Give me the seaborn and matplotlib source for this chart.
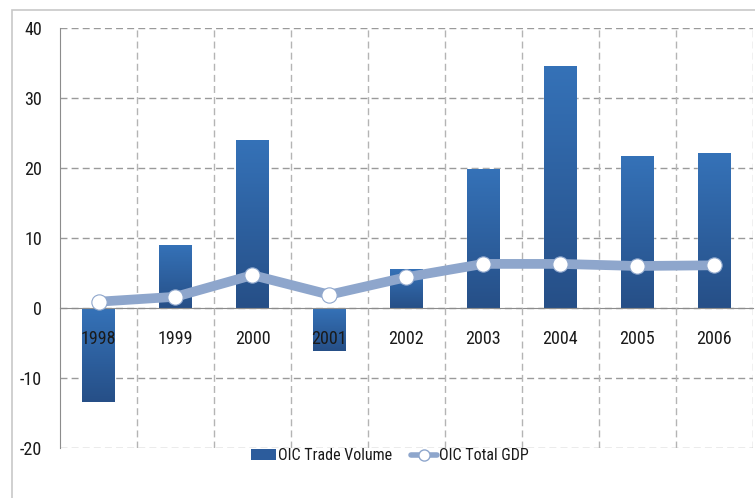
import matplotlib
matplotlib.use("Agg")
import matplotlib.pyplot as plt
import matplotlib.font_manager as fm
from matplotlib.patches import Rectangle
from matplotlib.lines import Line2D
import numpy as np
import pandas as pd
import seaborn as sns

# values
years = ["1998", "1999", "2000", "2001", "2002", "2003", "2004", "2005", "2006"]
trade_volume = [-13.4, 9.0, 24.0, -6.1, 5.6, 19.9, 34.6, 21.7, 22.1]
total_gdp = [0.9, 1.6, 4.7, 1.9, 4.4, 6.3, 6.3, 6.0, 6.1]
y_ticks = [-20, -10, 0, 10, 20, 30, 40]

df = pd.DataFrame({"Year": years, "Trade": trade_volume, "GDP": total_gdp})

sns.set_style("white")
fonts = fm.fontManager.ttflist
names = {f.name for f in fonts}
narrow = [n for n in ["Roboto Condensed", "Liberation Sans Narrow", "Open Sans Condensed"] if n in names]
dejavu_cond = any(f.name == "DejaVu Sans" and f.stretch == "condensed" for f in fonts)
if narrow:
    plt.rcParams["font.family"] = [narrow[0], "DejaVu Sans"]
elif dejavu_cond:
    plt.rcParams["font.family"] = ["DejaVu Sans"]
    plt.rcParams["font.stretch"] = "condensed"
else:
    plt.rcParams["font.family"] = ["Roboto", "DejaVu Sans"]

fig = plt.figure(figsize=(7.55, 4.98), dpi=100)
ax = fig.add_axes([0.0795, 0.1004, 0.9175, 0.8434])

bar_top = "#3572b8"
bar_bot = "#264f87"
line_col = "#8ea6cc"

sns.barplot(data=df, x="Year", y="Trade", color=bar_top, width=0.42,
            saturation=1, ax=ax, zorder=2)

# vertical gradient fill on each bar
grad = np.linspace(0, 1, 256).reshape(-1, 1)
cmap = matplotlib.colors.LinearSegmentedColormap.from_list("g", [bar_bot, bar_top])
for p in list(ax.patches):
    x0, y0 = p.get_x(), p.get_y()
    w, h = p.get_width(), p.get_height()
    lo, hi = min(y0, y0 + h), max(y0, y0 + h)
    im = ax.imshow(grad, extent=[x0, x0 + w, lo, hi], origin="lower",
                   cmap=cmap, aspect="auto", zorder=2.1)
    im.set_clip_path(p)

sns.lineplot(data=df, x="Year", y="GDP", color=line_col, linewidth=7,
             marker="o", markersize=11, markerfacecolor="white",
             markeredgecolor=line_col, markeredgewidth=0.8, ax=ax, zorder=6)

ax.set_xlim(-0.5, len(years) - 0.5)
ax.set_ylim(-20, 40)
ax.set_yticks(y_ticks)
ax.set_yticklabels([str(v) for v in y_ticks], fontsize=13)
ax.set_xlabel("")
ax.set_ylabel("")

# grid: horizontal lines behind the bars, vertical lines only between them
ax.set_xticks(np.arange(len(years)) + 0.5, minor=True)
ax.grid(axis="y", which="major", color="#9a9a9a", linestyle=(0, (5, 3)), linewidth=1)
ax.grid(axis="x", which="minor", color="#b4b4b4", linestyle=(0, (5, 3)), linewidth=1)
ax.tick_params(axis="x", which="minor", length=0)
ax.yaxis.set_zorder(0.5)
ax.xaxis.set_zorder(5)  # year labels sit on top of negative bars

# x axis at zero, labels just below it
for s in ["top", "right"]:
    ax.spines[s].set_visible(False)
ax.spines["bottom"].set_position(("data", 0))
ax.spines["bottom"].set_color("#8c8c8c")
ax.spines["bottom"].set_zorder(3)
ax.spines["left"].set_color("#8c8c8c")
ax.tick_params(axis="x", which="major", length=0, pad=16, labelsize=13, labelcolor="#1a1a1a")
ax.tick_params(axis="y", length=5, color="#8c8c8c", pad=8, labelcolor="#1a1a1a")

# legend
handles = [Rectangle((0, 0), 1, 1, facecolor="#2c5c9c", edgecolor="none"),
           Line2D([], [], color=line_col, linewidth=4, marker="o", markersize=8,
                  markerfacecolor="white", markeredgecolor=line_col)]
fig.legend(handles, ["OIC Trade Volume", "OIC Total GDP"], loc="center",
           bbox_to_anchor=(0.516, 0.085), ncol=2, frameon=False, fontsize=11.5,
           handlelength=1.6, handleheight=0.6, handletextpad=0.1, columnspacing=1.2,
           labelcolor="#1a1a1a")

# outer frame
fig.patches.append(Rectangle((12 / 755, -0.05), 1.2, 1 - 10 / 498 + 0.05,
                             transform=fig.transFigure, fill=False,
                             edgecolor="#c8c8c8", linewidth=1.2))

fig.savefig("out.png", dpi=100)
